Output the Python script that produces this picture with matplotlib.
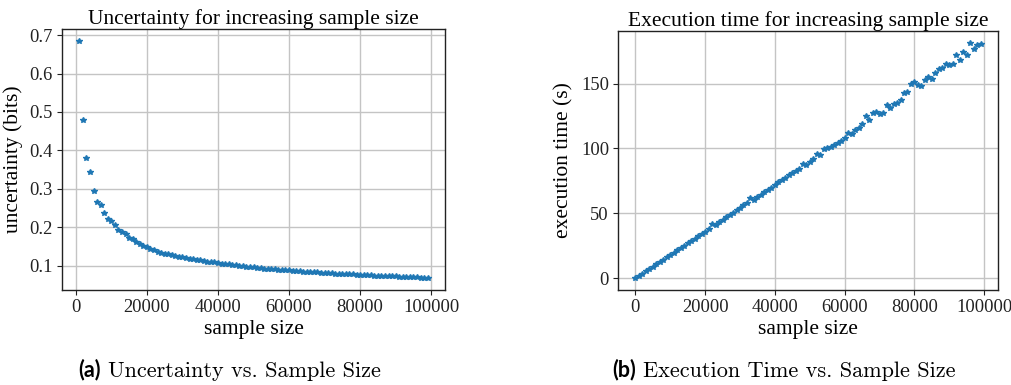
import matplotlib
matplotlib.use("Agg")
import matplotlib.pyplot as plt
from matplotlib.offsetbox import TextArea, HPacker, AnnotationBbox

# ---- data ----
sample_sizes_unc = [k * 1000 for k in range(1, 100)]
uncertainty = [
    0.685, 0.480, 0.380, 0.345, 0.294, 0.265, 0.258, 0.237, 0.222, 0.216,
    0.206, 0.194, 0.187, 0.183, 0.172, 0.169, 0.163, 0.157, 0.151, 0.148,
    0.145, 0.1415, 0.137, 0.134, 0.132, 0.130, 0.128, 0.126, 0.124, 0.122,
    0.120, 0.118, 0.117, 0.115, 0.114, 0.112, 0.111, 0.110, 0.109, 0.107,
    0.106, 0.105, 0.104, 0.102, 0.101, 0.100, 0.099, 0.098, 0.097, 0.096,
    0.095, 0.094, 0.093, 0.0925, 0.092, 0.091, 0.090, 0.089, 0.0885, 0.088,
    0.087, 0.0865, 0.086, 0.085, 0.0845, 0.084, 0.0835, 0.083, 0.082, 0.0815,
    0.081, 0.0805, 0.080, 0.0795, 0.079, 0.0785, 0.078, 0.0775, 0.077, 0.0765,
    0.076, 0.0756, 0.0752, 0.0748, 0.0743, 0.0739, 0.0735, 0.0731, 0.0727, 0.0723,
    0.0719, 0.0715, 0.0711, 0.0707, 0.0703, 0.0699, 0.0695, 0.0690, 0.0680,
]

sample_sizes_time = [k * 1000 for k in range(0, 100)]
exec_time = [
    0.0, 1.8, 3.6, 5.4, 7.2, 9.0, 10.8, 12.6, 14.4, 16.2,
    18.0, 19.8, 21.6, 23.4, 25.2, 27.0, 28.8, 30.6, 32.8, 34.4,
    36.0, 37.7, 42.0, 41.0, 43.0, 45.0, 47.0, 48.6, 50.4, 52.2,
    54.4, 56.2, 58.0, 61.5, 60.2, 62.5, 64.5, 66.3, 68.0, 69.5,
    72.0, 74.0, 76.0, 77.5, 79.5, 81.0, 83.0, 84.5, 87.7, 87.0,
    89.5, 92.0, 95.5, 95.0, 99.5, 100.5, 101.5, 103.0, 104.5, 105.5,
    107.7, 112.3, 111.5, 114.0, 115.5, 118.5, 124.8, 121.8, 127.4, 128.2,
    126.4, 127.7, 133.3, 131.5, 134.6, 135.1, 137.7, 142.8, 143.5, 150.0,
    151.2, 149.2, 147.9, 152.5, 155.1, 153.8, 158.5, 161.0, 162.0, 164.8,
    164.6, 165.3, 171.7, 168.4, 174.3, 172.2, 181.5, 176.9, 179.5, 180.3,
]

titles = ["Uncertainty for increasing sample size",
          "Execution time for increasing sample size"]
ylabels = ["uncertainty (bits)", "execution time (s)"]
xlabel = "sample size"
caption_tags = ["(a)", "(b)"]
caption_texts = ["Uncertainty vs. Sample Size", "Execution Time vs. Sample Size"]

# ---- styling ----
plt.rcParams["font.family"] = ["Liberation Serif", "DejaVu Serif"]
plt.rcParams["axes.linewidth"] = 1.0
COLOR = "#1f77b4"
TICK_FS = 13.3
LABEL_FS = 15.5
TITLE_FS = 15.5

fig = plt.figure(figsize=(10.11, 3.85), dpi=100)
ax1 = fig.add_axes([0.0613, 0.2468, 0.3789, 0.6779])
ax2 = fig.add_axes([0.6113, 0.2468, 0.3759, 0.6727])

for ax, xs, ys, t, yl in [(ax1, sample_sizes_unc, uncertainty, titles[0], ylabels[0]),
                          (ax2, sample_sizes_time, exec_time, titles[1], ylabels[1])]:
    ax.plot(xs, ys, linestyle="none", marker="*", markersize=3.8, color=COLOR)
    ax.grid(True, color="#c4c4c4", linewidth=1.0)
    ax.set_axisbelow(True)
    ax.set_title(t, fontsize=TITLE_FS, pad=3)
    ax.set_xlabel(xlabel, fontsize=LABEL_FS, labelpad=3)
    ax.set_ylabel(yl, fontsize=LABEL_FS, labelpad=5)
    ax.tick_params(labelsize=TICK_FS, colors="#222222", pad=3)
    for s in ax.spines.values():
        s.set_color("#222222")
    ax.set_xticks([0, 20000, 40000, 60000, 80000, 100000])

ax1.set_yticks([0.1, 0.2, 0.3, 0.4, 0.5, 0.6, 0.7])
ax2.set_yticks([0, 50, 100, 150])

# ---- captions ----
cap_centers = [0.227, 0.775]
for tag, txt, cx in zip(caption_tags, caption_texts, cap_centers):
    ta = TextArea(tag, textprops=dict(family="Lato", weight="bold", fontsize=15.5, color="black"))
    tb = TextArea(txt, textprops=dict(family="cmr10", fontsize=16, color="black"))
    box = HPacker(children=[ta, tb], align="baseline", pad=0, sep=5)
    ab = AnnotationBbox(box, (cx, 0.039), xycoords="figure fraction",
                        box_alignment=(0.5, 0.5), frameon=False, pad=0)
    fig.add_artist(ab)

fig.savefig("out.png", dpi=100)
